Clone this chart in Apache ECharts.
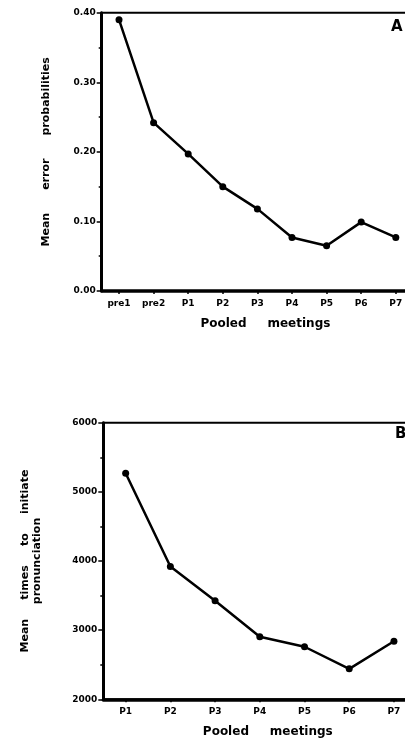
<!DOCTYPE html>
<html><head><meta charset="utf-8">
<script src="https://cdn.jsdelivr.net/npm/echarts@6/dist/echarts.min.js"></script>
<style>html,body{margin:0;padding:0;background:#fff}#c{width:405px;height:742px}</style>
</head><body><div id="c"></div>
<script>
const categoriesA = ['pre1','pre2','P1','P2','P3','P4','P5','P6','P7'];
const valuesA = [0.390, 0.242, 0.197, 0.150, 0.118, 0.077, 0.065, 0.099, 0.077];
const yTicksA = ['0.00','0.10','0.20','0.30','0.40'];
const categoriesB = ['P1','P2','P3','P4','P5','P6','P7'];
const valuesB = [5270, 3920, 3425, 2905, 2760, 2440, 2840];
const yTicksB = ['2000','3000','4000','5000','6000'];

const FONT = 'DejaVu Sans';
const chart = echarts.init(document.getElementById('c'), null, {renderer:'canvas'});
const axisLine = w => ({show:true, lineStyle:{color:'#000', width:w}});
const yAxisCommon = (ticks, name, gap) => ({
  type:'value', min:Number(ticks[0]), max:Number(ticks[ticks.length-1]),
  interval:Number(ticks[1])-Number(ticks[0]),
  axisLine:axisLine(3),
  axisTick:{show:true, length:5, lineStyle:{color:'#000', width:1.5}},
  minorTick:{show:true, splitNumber:2, length:3, lineStyle:{color:'#000', width:1.5}},
  splitLine:{show:false},
  axisLabel:{color:'#000', fontFamily:FONT, fontWeight:'bold', fontSize:9, margin:6,
    formatter: v => ticks.find(t => Math.abs(Number(t)-v) < 1e-9) || ''},
  name:name, nameLocation:'middle', nameGap:gap,
  nameTextStyle:{color:'#000', fontFamily:FONT, fontWeight:'bold', fontSize:11, lineHeight:12}
});
const xAxisCommon = (cats, gi) => ({
  type:'category', data:cats, gridIndex:gi, boundaryGap:true,
  axisLine:axisLine(3.5),
  axisTick:{show:true, alignWithLabel:true, length:3, lineStyle:{color:'#000', width:1.5}},
  axisLabel:{color:'#000', fontFamily:FONT, fontWeight:'bold', fontSize:9, margin:8, interval:0},
  name:'Pooled     meetings', nameLocation:'middle', nameGap:27,
  nameTextStyle:{color:'#000', fontFamily:FONT, fontWeight:'bold', fontSize:12, padding:[0,0,0,16]}
});
const seriesCommon = {
  type:'line', symbol:'circle', symbolSize:7, showSymbol:true,
  lineStyle:{color:'#000', width:2.5}, itemStyle:{color:'#000'}, animation:false
};
chart.setOption({
  animation:false,
  grid:[
    {left:101.7, top:12.7, width:311.4, height:278.3, show:true, borderColor:'#000', borderWidth:2, outerBoundsMode:'none', containLabel:false},
    {left:103.3, top:422.7, width:313, height:276.6, show:true, borderColor:'#000', borderWidth:2, outerBoundsMode:'none', containLabel:false}
  ],
  xAxis:[xAxisCommon(categoriesA,0), xAxisCommon(categoriesB,1)],
  yAxis:[
    Object.assign(yAxisCommon(yTicksA,'Mean      error      probabilities', 50), {gridIndex:0}),
    Object.assign(yAxisCommon(yTicksB,'Mean     times     to     initiate\npronunciation', 60), {gridIndex:1})
  ],
  series:[
    Object.assign({}, seriesCommon, {xAxisIndex:0, yAxisIndex:0, data:valuesA}),
    Object.assign({}, seriesCommon, {xAxisIndex:1, yAxisIndex:1, data:valuesB})
  ],
  graphic:[
    {type:'text', left:391, top:20, style:{text:'A', fill:'#000', font:'bold 15px "DejaVu Sans"'}},
    {type:'text', left:395, top:427, style:{text:'B', fill:'#000', font:'bold 15px "DejaVu Sans"'}}
  ]
});
</script></body></html>
